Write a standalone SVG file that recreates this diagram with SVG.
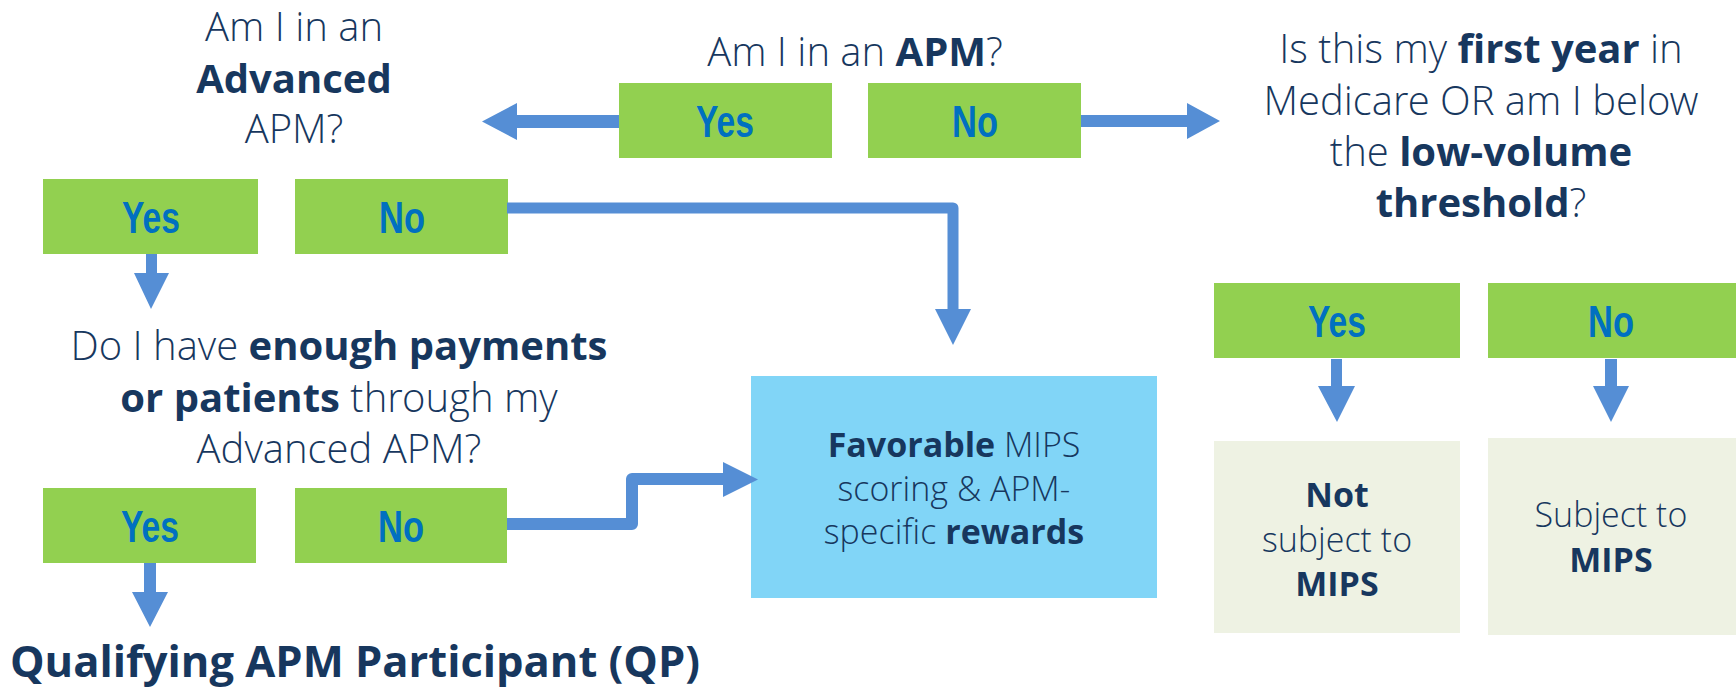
<svg xmlns="http://www.w3.org/2000/svg" width="1736" height="688" viewBox="0 0 1736 688">
<style>
.q{font-family:"Open Sans Light","Open Sans","Liberation Sans",sans-serif;font-weight:300;fill:#17375E;text-anchor:middle}
.b{font-family:"Open Sans","Liberation Sans",sans-serif;font-weight:700}
.g{fill:#92D050}
.yn{font-family:"Liberation Sans Narrow","Liberation Sans",sans-serif;font-weight:700;font-size:45px;fill:#0070C0;text-anchor:middle}
.ar{fill:#558ED5}
.ln{fill:none;stroke:#558ED5;stroke-linejoin:round}
</style>
<rect width="1736" height="688" fill="#fff"/>
<g id="q-advanced">
<text class="q" font-size="40" x="294" y="41">Am I in an</text>
<text class="q b" font-size="40" x="294" y="93">Advanced</text>
<text class="q" font-size="40" x="294" y="143">APM?</text>
</g>
<g id="q-apm">
<text class="q" font-size="40" x="855" y="66">Am I in an <tspan class="b">APM</tspan>?</text>
</g>
<g id="q-first-year">
<text class="q" font-size="40" x="1481" y="63">Is this my <tspan class="b">first year</tspan> in</text>
<text class="q" font-size="40" x="1481" y="115">Medicare OR am I below</text>
<text class="q" font-size="40" x="1481" y="166">the <tspan class="b">low-volume</tspan></text>
<text class="q" font-size="40" x="1481" y="217"><tspan class="b">threshold</tspan>?</text>
</g>
<g id="q-enough">
<text class="q" font-size="40" x="339" y="360">Do I have <tspan class="b">enough payments</tspan></text>
<text class="q" font-size="40" x="339" y="412"><tspan class="b">or patients</tspan> through my</text>
<text class="q" font-size="40" x="339" y="463">Advanced APM?</text>
</g>
<g id="apm-yes"><rect class="g" x="619" y="83" width="213" height="75"/><text class="yn" x="725" y="137" textLength="58" lengthAdjust="spacingAndGlyphs">Yes</text></g>
<g id="apm-no"><rect class="g" x="868" y="83" width="213" height="75"/><text class="yn" x="975" y="137" textLength="46" lengthAdjust="spacingAndGlyphs">No</text></g>
<g id="adv-yes"><rect class="g" x="43" y="179" width="215" height="75"/><text class="yn" x="151" y="233" textLength="58" lengthAdjust="spacingAndGlyphs">Yes</text></g>
<g id="adv-no"><rect class="g" x="295" y="179" width="213" height="75"/><text class="yn" x="402" y="233" textLength="46" lengthAdjust="spacingAndGlyphs">No</text></g>
<g id="qp-yes"><rect class="g" x="43" y="488" width="213" height="75"/><text class="yn" x="150" y="542" textLength="58" lengthAdjust="spacingAndGlyphs">Yes</text></g>
<g id="qp-no"><rect class="g" x="295" y="488" width="212" height="75"/><text class="yn" x="401" y="542" textLength="46" lengthAdjust="spacingAndGlyphs">No</text></g>
<g id="lv-yes"><rect class="g" x="1214" y="283" width="246" height="75"/><text class="yn" x="1337" y="337" textLength="58" lengthAdjust="spacingAndGlyphs">Yes</text></g>
<g id="lv-no"><rect class="g" x="1488" y="283" width="248" height="75"/><text class="yn" x="1611" y="337" textLength="46" lengthAdjust="spacingAndGlyphs">No</text></g>
<g id="qp-result">
<text class="q b" font-size="43" x="10" y="677" style="text-anchor:start" textLength="690" lengthAdjust="spacingAndGlyphs">Qualifying APM Participant (QP)</text>
</g>
<g id="favorable">
<rect x="751" y="376" width="406" height="222" fill="#81D5F7"/>
<text class="q" font-size="34" x="954" y="457"><tspan class="b">Favorable</tspan> MIPS</text>
<text class="q" font-size="34" x="954" y="501">scoring &amp; APM-</text>
<text class="q" font-size="34" x="954" y="544">specific <tspan class="b">rewards</tspan></text>
</g>
<g id="not-subject">
<rect x="1214" y="441" width="246" height="192" fill="#EEF2E3"/>
<text class="q b" font-size="34" x="1337" y="507">Not</text>
<text class="q" font-size="34" x="1337" y="552">subject to</text>
<text class="q b" font-size="34" x="1337" y="596">MIPS</text>
</g>
<g id="subject">
<rect x="1488" y="438" width="248" height="197" fill="#EEF2E3"/>
<text class="q" font-size="34" x="1611" y="527">Subject to</text>
<text class="q b" font-size="34" x="1611" y="572">MIPS</text>
</g>
<g id="connectors">
<polygon class="ar" points="619,115 517,115 517,103 482,121.5 517,140 517,128 619,128"/>
<polygon class="ar" points="1081,115 1187,115 1187,103 1220,121 1187,139 1187,127 1081,127"/>
<polygon class="ar" points="146,254 157,254 157,273 169,273 151,309 134,273 146,273"/>
<path class="ln" stroke-width="11" d="M507,208 H953 V310"/>
<polygon class="ar" points="935,309 971,309 953,345"/>
<polygon class="ar" points="144,563 156,563 156,592 168,592 150,627 132,592 144,592"/>
<path class="ln" stroke-width="12" d="M507,524 H632 V479 H724"/>
<polygon class="ar" points="723,462 758,479.5 723,497"/>
<polygon class="ar" points="1331,359 1342,359 1342,386 1355,386 1337,422 1318,386 1331,386"/>
<polygon class="ar" points="1605,359 1617,359 1617,386 1629,386 1611,422 1593,386 1605,386"/>
</g>
</svg>
